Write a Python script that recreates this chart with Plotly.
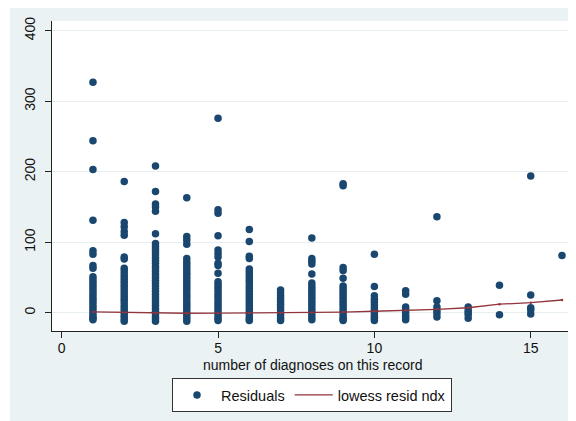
import plotly.graph_objects as go

# Residuals by number of diagnoses
resid_1 = [327, 244, 203, 131, 88, 83, 67, 63, 51, 47, 43, 39, 35, 31, 27, 23, 19, 15, 11, 7, 3, -1, -5, -8, -10]
resid_2 = [186, 128, 122, 115, 110, 79, 76, 63, 59, 55, 51, 47, 43, 39, 35, 31, 27, 23, 19, 15, 11, 7, 3, -1, -5, -9, -12]
resid_3 = [208, 172, 154, 150, 144, 112, 98, 94, 90, 86, 82, 78, 74, 70, 66, 62, 58, 54, 50, 46, 42, 38, 34, 30, 26, 22, 18, 14, 10, 6, 2, -2, -6, -9, -12]
resid_4 = [163, 108, 103, 97, 77, 72, 68, 64, 60, 56, 52, 48, 44, 40, 36, 32, 28, 24, 20, 16, 12, 8, 4, 0, -4, -8, -12]
resid_5 = [276, 146, 141, 109, 89, 84, 79, 70, 67, 56, 44, 40, 36, 32, 28, 24, 20, 16, 12, 8, 4, 0, -4, -8, -11]
resid_6 = [118, 101, 80, 77, 62, 58, 54, 50, 46, 42, 38, 34, 30, 26, 22, 18, 14, 10, 6, 2, -2, -6, -9, -11]
resid_7 = [32, 28, 24, 20, 16, 12, 8, 4, 0, -4, -8, -11]
resid_8 = [106, 77, 73, 69, 55, 42, 38, 34, 30, 26, 22, 18, 14, 10, 6, 2, -2, -6, -10]
resid_9 = [183, 180, 64, 60, 49, 38, 34, 30, 26, 22, 18, 14, 10, 6, 2, -2, -6, -9, -11]
resid_10 = [83, 37, 24, 19, 15, 11, 7, 3, -1, -5, -8, -11]
resid_11 = [31, 26, 8, 4, 0, -4, -7, -10]
resid_12 = [136, 17, 8, 3, -1, -6]
resid_13 = [8, 3, 0, -3, -8]
resid_14 = [39, -3]
resid_15 = [194, 25, 7, 4, -2]
resid_16 = [81]

resid_columns = [resid_1, resid_2, resid_3, resid_4, resid_5, resid_6, resid_7, resid_8,
                 resid_9, resid_10, resid_11, resid_12, resid_13, resid_14, resid_15, resid_16]
ndx_values = [1, 2, 3, 4, 5, 6, 7, 8, 9, 10, 11, 12, 13, 14, 15, 16]

# Lowess smooth
lowess_y = [1, 0.3, -0.5, -0.8, -0.6, -0.3, 0, 0.3, 0.8, 2, 3, 4.8, 7, 12, 14.2, 18]

x_ticks = [0, 5, 10, 15]
y_ticks = [0, 100, 200, 300, 400]
x_title = "number of diagnoses on this record"

scatter_x, scatter_y = [], []
for n, col in zip(ndx_values, resid_columns):
    scatter_x += [n] * len(col)
    scatter_y += col

NAVY = "#1A476F"
MAROON = "#90353B"
BG = "#EAF2F3"
FONT = "Liberation Sans, Arial, sans-serif"

# The page body adds an 8px offset; figure coordinates below compensate for it.
W, H = 568, 413
ML, MR, MT, MB = 44, 4, 13, 90
PH = H - MT - MB          # plot height in px
PW = W - ML - MR          # plot width in px
PLOT_BOTTOM = MT + PH     # figure px


def py(fig_px_y):
    return (PLOT_BOTTOM - fig_px_y) / PH


fig = go.Figure()
fig.add_trace(go.Scatter(
    x=scatter_x, y=scatter_y, mode="markers", name="Residuals",
    marker=dict(color=NAVY, size=7.5, line=dict(width=0)),
))
fig.add_trace(go.Scatter(
    x=ndx_values, y=lowess_y, mode="lines", name="lowess resid ndx",
    line=dict(color=MAROON, width=1.3),
))
fig.add_trace(go.Scatter(
    x=ndx_values, y=lowess_y, mode="markers", showlegend=False,
    marker=dict(color=MAROON, size=2.5),
))

# thin white strip on the left outside the graph region
fig.add_shape(type="rect", xref="paper", yref="paper", x0=-0.3, x1=(2 - ML) / PW, y0=-0.5, y1=1.2,
              fillcolor="white", line=dict(width=0), layer="below")

# x axis title placed as annotation for exact position
fig.add_annotation(text=x_title, xref="paper", yref="paper", x=0.5, y=py(364.5 - 8),
                   xanchor="center", yanchor="middle", showarrow=False, borderpad=0,
                   font=dict(size=14, family=FONT, color="#111"))

fig.update_layout(
    width=W, height=H,
    margin=dict(l=ML, r=MR, t=MT, b=MB, autoexpand=False),
    paper_bgcolor=BG, plot_bgcolor="white",
    font=dict(family=FONT, size=14, color="#111"),
    showlegend=True,
    legend=dict(orientation="h", x=0.5, xanchor="center", y=py(378 - 8), yanchor="top",
                bgcolor="white", bordercolor="#333", borderwidth=1,
                font=dict(size=14.5), itemwidth=38),
    xaxis=dict(
        range=[-0.31, 16.32], tickvals=x_ticks, ticktext=[str(v) for v in x_ticks],
        showgrid=False, zeroline=False, showline=True, linecolor="#222", linewidth=1,
        ticks="outside", ticklen=6, tickcolor="#222", tickfont=dict(size=14), automargin=False,
        ticklabelstandoff=-2,
    ),
    yaxis=dict(
        range=[-26, 413.8], tickvals=y_ticks, ticktext=[str(v) for v in y_ticks],
        showgrid=True, gridcolor="#E6EEF0", gridwidth=1, zeroline=False,
        showline=True, linecolor="#222", linewidth=1,
        ticks="outside", ticklen=6, tickcolor="#222", tickangle=-90, tickfont=dict(size=14),
        automargin=False, ticklabelstandoff=4,
    ),
)

fig.write_html("out.html")
